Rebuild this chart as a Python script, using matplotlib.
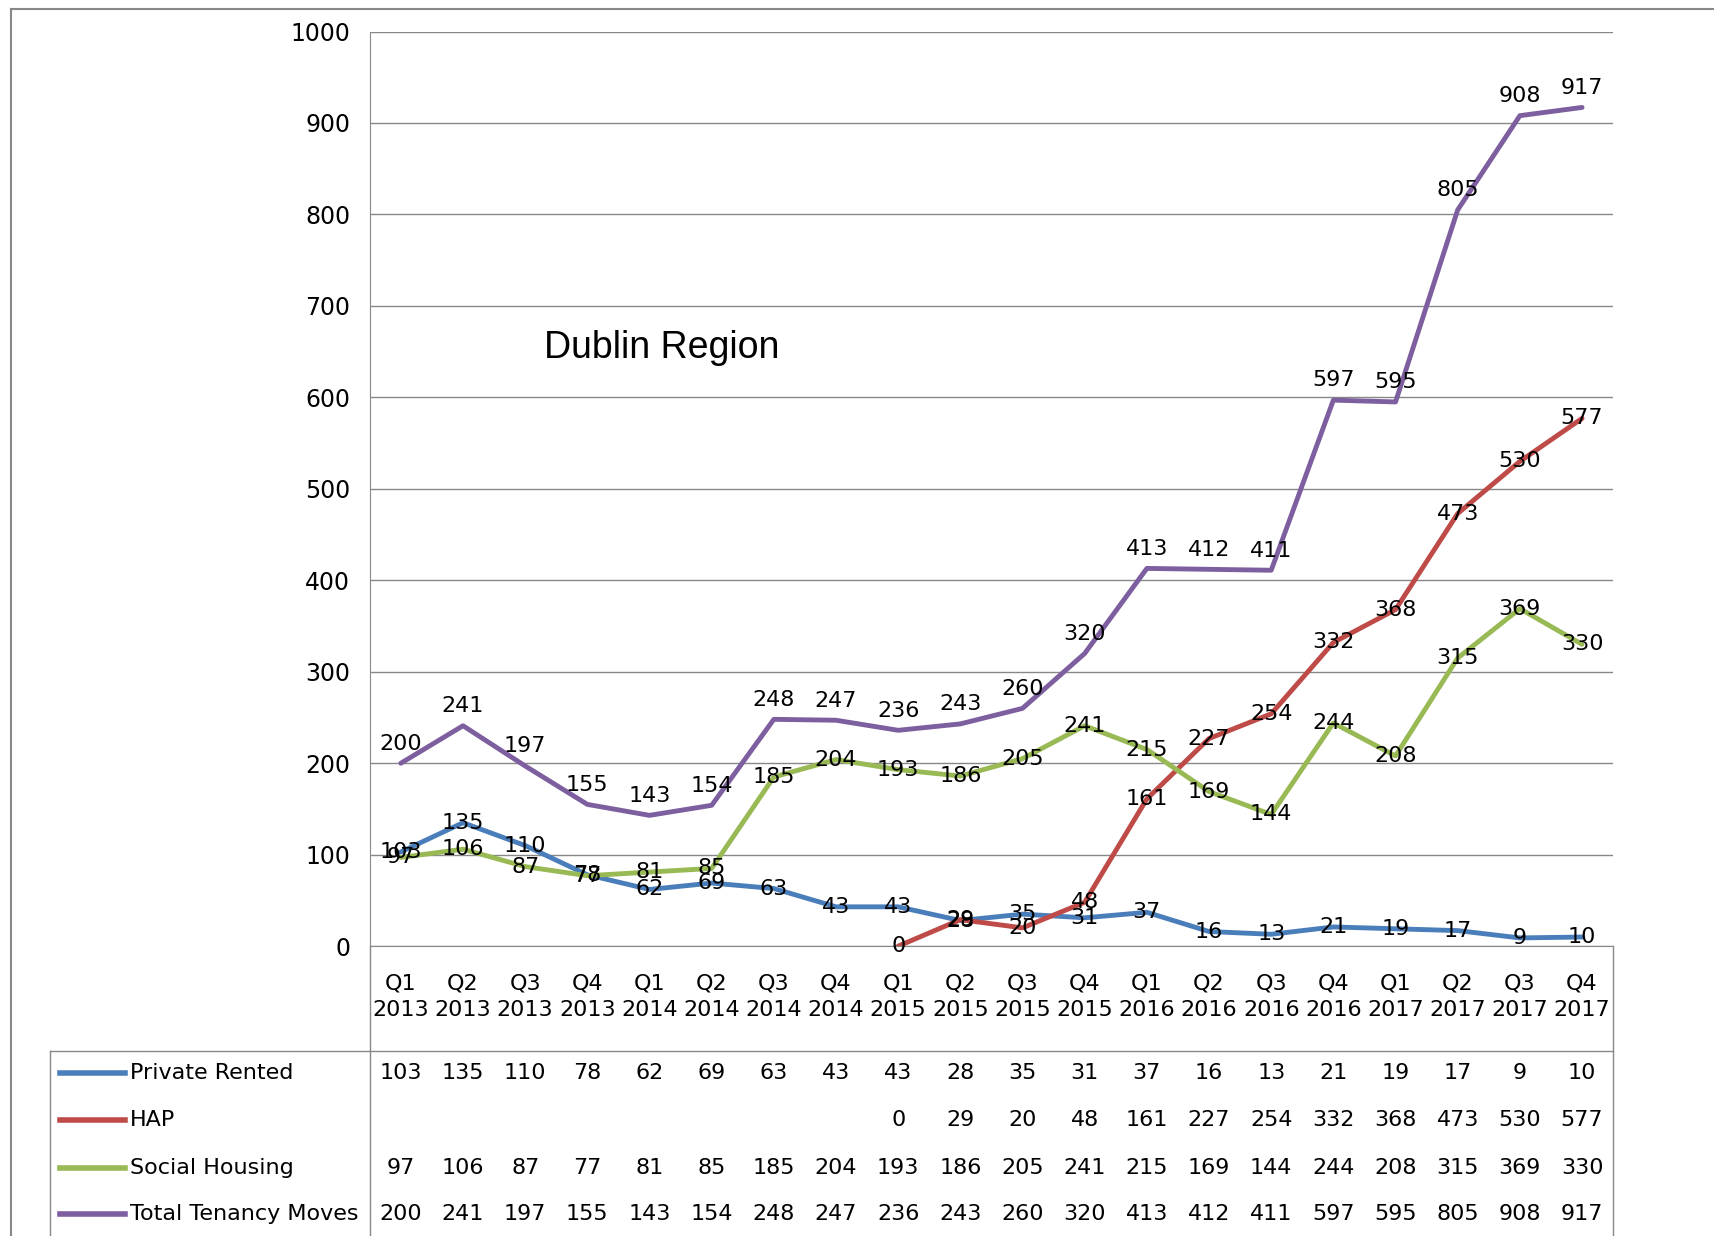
import matplotlib.pyplot as plt
import numpy as np

quarters = ["Q1\n2013", "Q2\n2013", "Q3\n2013", "Q4\n2013", "Q1\n2014", "Q2\n2014", "Q3\n2014", "Q4\n2014",
            "Q1\n2015", "Q2\n2015", "Q3\n2015", "Q4\n2015", "Q1\n2016", "Q2\n2016", "Q3\n2016", "Q4\n2016",
            "Q1\n2017", "Q2\n2017", "Q3\n2017", "Q4\n2017"]
private_rented = [103, 135, 110, 78, 62, 69, 63, 43, 43, 28, 35, 31, 37, 16, 13, 21, 19, 17, 9, 10]
hap = [None] * 8 + [0, 29, 20, 48, 161, 227, 254, 332, 368, 473, 530, 577]
social_housing = [97, 106, 87, 77, 81, 85, 185, 204, 193, 186, 205, 241, 215, 169, 144, 244, 208, 315, 369, 330]
total_moves = [200, 241, 197, 155, 143, 154, 248, 247, 236, 243, 260, 320, 413, 412, 411, 597, 595, 805, 908, 917]

series = [("Private Rented", private_rented, "#4a7ebb", 0),
          ("HAP", hap, "#be4b48", 0),
          ("Social Housing", social_housing, "#98b954", 0),
          ("Total Tenancy Moves", total_moves, "#7d5fa0", 7)]

fs = 16
fig = plt.figure(figsize=(17.15, 12.36), dpi=100)
ax = fig.add_axes([0.2156, 0.2345, 0.725, 0.74])
x = np.arange(len(quarters))
for name, vals, col, dy in series:
    xs = [i for i, v in zip(x, vals) if v is not None]
    ys = [v for v in vals if v is not None]
    ax.plot(xs, ys, color=col, lw=3.5, solid_capstyle="round")
    for xi, yi in zip(xs, ys):
        ax.annotate(str(yi), (xi, yi), xytext=(0, dy), textcoords="offset points",
                    ha="center", va="bottom" if dy else "center", fontsize=fs)

ax.set_xlim(-0.5, len(quarters) - 0.5)
ax.set_ylim(0, 1000)
ax.set_yticks(range(0, 1001, 100))
ax.tick_params(axis="y", labelsize=fs + 1, length=0, pad=14)
ax.set_xticks([])
ax.grid(axis="y", color="#888888", lw=1)
for s in ["top", "right"]:
    ax.spines[s].set_visible(False)
ax.spines["left"].set_color("#888888")
ax.spines["bottom"].set_color("#888888")
ax.text(0.14, 0.654, "Dublin Region", transform=ax.transAxes, fontsize=27,
        va="center", family="Liberation Sans")

# data table below the axis
trans = ax.get_xaxis_transform()
for i, q in enumerate(quarters):
    ax.text(i, -0.055, q, transform=trans, ha="center", va="center", fontsize=fs, linespacing=1.4)
row_y = [-0.139, -0.190, -0.242, -0.293]
for (name, vals, col, _), ry in zip(series, row_y):
    for i, v in enumerate(vals):
        if v is not None:
            ax.text(i, ry, str(v), transform=trans, ha="center", va="center", fontsize=fs)
    fy = 0.2345 + 0.74 * ry
    fig.add_artist(plt.Line2D([0.035, 0.073], [fy, fy], color=col, lw=4))
    fig.text(0.076, fy, name, ha="left", va="center", fontsize=fs)

grey = "#888888"
fig.add_artist(plt.Line2D([0.2156, 0.2156], [0.2345, 0.0], color=grey, lw=1))
fig.add_artist(plt.Line2D([0.9406, 0.9406], [0.2345, 0.0], color=grey, lw=1))
fig.add_artist(plt.Line2D([0.029, 0.9406], [0.15, 0.15], color=grey, lw=1))
fig.add_artist(plt.Line2D([0.029, 0.029], [0.15, 0.0], color=grey, lw=1))
fig.add_artist(plt.Line2D([0.0064, 0.0064], [0.0, 0.993], color=grey, lw=1.5))
fig.add_artist(plt.Line2D([0.0064, 1.0], [0.993, 0.993], color=grey, lw=1.5))

fig.savefig("out.png")
